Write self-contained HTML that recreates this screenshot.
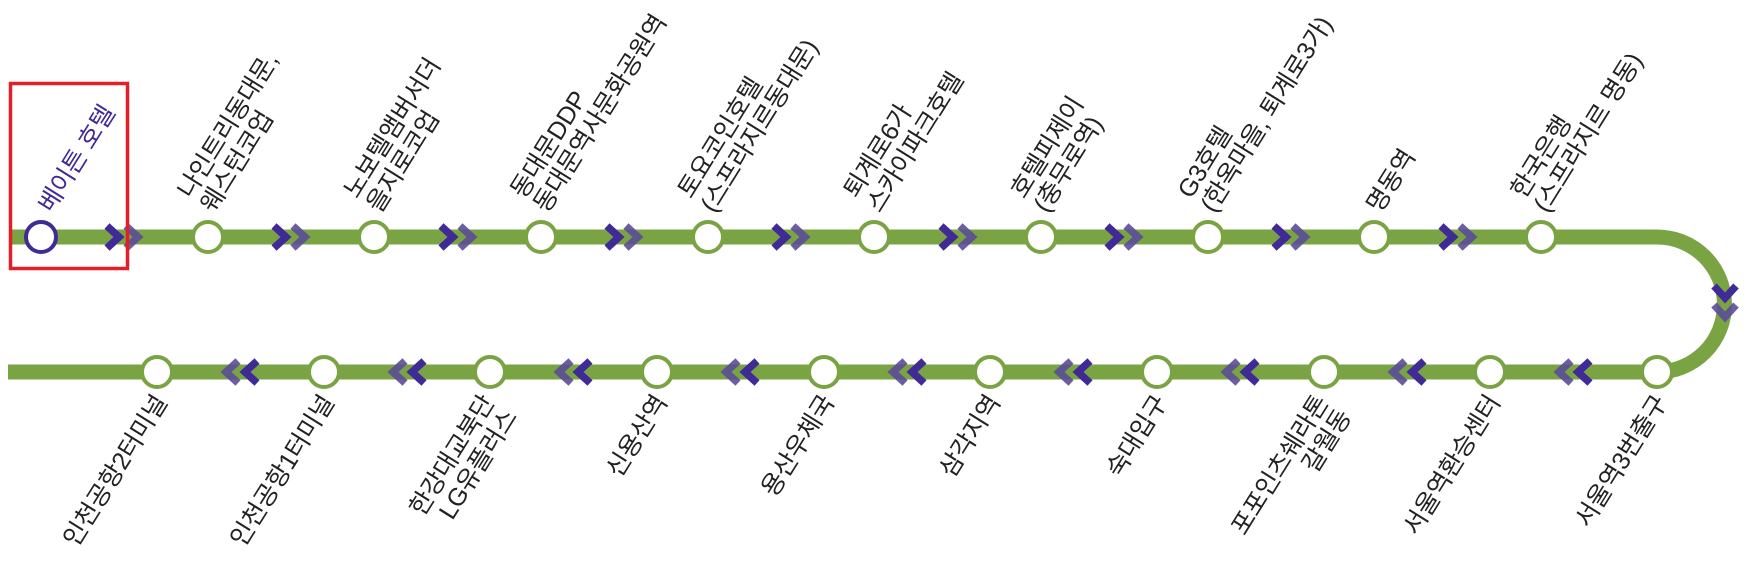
<!DOCTYPE html>
<html><head><meta charset="utf-8"><style>
html,body{margin:0;padding:0;background:#fff;}
svg{display:block;}
text{font-family:"Liberation Sans","Noto Sans CJK KR",sans-serif;font-size:25px;fill:#222;letter-spacing:-0.3px;}
</style></head><body>
<svg width="1750" height="572" viewBox="0 0 1750 572" xmlns="http://www.w3.org/2000/svg">
<defs>
<g id="chev"><polyline points="-8,-11 4,0 -8,11" fill="none" stroke-width="7.5" stroke-linecap="butt" stroke-linejoin="miter"/></g>
<g id="pairR"><use href="#chev" x="-9" stroke="#3f2a96"/><use href="#chev" x="10" stroke="#5b4c98" opacity="0.9"/></g>
</defs>
<path d="M10,237 H1657 A67.5,67.5 0 0 1 1657,372 H8" fill="none" stroke="#7aa343" stroke-width="15"/>
<g id="arrows">
<use href="#pairR" x="124" y="237"/><use href="#pairR" x="291" y="237"/><use href="#pairR" x="458" y="237"/>
<use href="#pairR" x="624" y="237"/><use href="#pairR" x="791" y="237"/><use href="#pairR" x="958" y="237"/>
<use href="#pairR" x="1124" y="237"/><use href="#pairR" x="1291" y="237"/><use href="#pairR" x="1458" y="237"/>
<g transform="translate(1725,303) rotate(90)"><use href="#pairR"/></g>
<g transform="translate(1573,372) rotate(180)"><use href="#pairR"/></g>
<g transform="translate(1407,372) rotate(180)"><use href="#pairR"/></g>
<g transform="translate(1240,372) rotate(180)"><use href="#pairR"/></g>
<g transform="translate(1073,372) rotate(180)"><use href="#pairR"/></g>
<g transform="translate(907,372) rotate(180)"><use href="#pairR"/></g>
<g transform="translate(740,372) rotate(180)"><use href="#pairR"/></g>
<g transform="translate(573,372) rotate(180)"><use href="#pairR"/></g>
<g transform="translate(407,372) rotate(180)"><use href="#pairR"/></g>
<g transform="translate(240,372) rotate(180)"><use href="#pairR"/></g>
</g>
<g fill="#fff" stroke="#7aa343" stroke-width="4">
<circle cx="41" cy="237" r="15" stroke="#3f2a96"/>
<circle cx="208" cy="237" r="15"/><circle cx="374" cy="237" r="15"/><circle cx="541" cy="237" r="15"/>
<circle cx="708" cy="237" r="15"/><circle cx="874" cy="237" r="15"/><circle cx="1041" cy="237" r="15"/>
<circle cx="1208" cy="237" r="15"/><circle cx="1374" cy="237" r="15"/><circle cx="1541" cy="237" r="15"/>
<circle cx="157" cy="372" r="15"/><circle cx="324" cy="372" r="15"/><circle cx="490" cy="372" r="15"/>
<circle cx="657" cy="372" r="15"/><circle cx="824" cy="372" r="15"/><circle cx="990" cy="372" r="15"/>
<circle cx="1157" cy="372" r="15"/><circle cx="1324" cy="372" r="15"/><circle cx="1490" cy="372" r="15"/>
<circle cx="1657" cy="372" r="15"/>
</g>
<rect x="10.5" y="83.5" width="117" height="185" fill="none" stroke="#e31e26" stroke-width="3.5"/>
<g transform="translate(52,214) rotate(-58)"><text style="fill:#3f2a96">베이튼 호텔</text></g>
<g transform="translate(214,214) rotate(-58)"><text y="-27">나인트리동대문,</text><text>웨스턴코업</text></g>
<g transform="translate(380,214) rotate(-58)"><text y="-27">노보텔앰버서더</text><text>을지로코업</text></g>
<g transform="translate(547,214) rotate(-58)"><text y="-27">동대문DDP</text><text>동대문역사문화공원역</text></g>
<g transform="translate(714,214) rotate(-58)"><text y="-27">토요코인호텔</text><text>(스프라지르동대문)</text></g>
<g transform="translate(880,214) rotate(-58)"><text y="-27">퇴계로6가</text><text>스카이파크호텔</text></g>
<g transform="translate(1047,214) rotate(-58)"><text y="-27">호텔피제이</text><text>(충무로역)</text></g>
<g transform="translate(1214,214) rotate(-58)"><text y="-27">G3호텔</text><text>(한옥마을, 퇴계로3가)</text></g>
<g transform="translate(1380,214) rotate(-58)"><text>명동역</text></g>
<g transform="translate(1547,214) rotate(-58)"><text y="-27">한국은행</text><text>(스프라지르 명동)</text></g>
<g text-anchor="end">
<g transform="translate(168,402) rotate(-58)"><text>인천공항2터미널</text></g>
<g transform="translate(335,402) rotate(-58)"><text>인천공항1터미널</text></g>
<g transform="translate(495,402) rotate(-58)"><text>한강대교북단</text><text y="27">LG유플러스</text></g>
<g transform="translate(668,402) rotate(-58)"><text>신용산역</text></g>
<g transform="translate(835,402) rotate(-58)"><text>용산우체국</text></g>
<g transform="translate(1001,402) rotate(-58)"><text>삼각지역</text></g>
<g transform="translate(1168,402) rotate(-58)"><text>숙대입구</text></g>
<g transform="translate(1329,402) rotate(-58)"><text>포포인츠쉐라톤</text><text y="27">갈월동</text></g>
<g transform="translate(1501,402) rotate(-58)"><text>서울역환승센터</text></g>
<g transform="translate(1668,402) rotate(-58)"><text>서울역3번출구</text></g>
</g>
</svg>
</body></html>
